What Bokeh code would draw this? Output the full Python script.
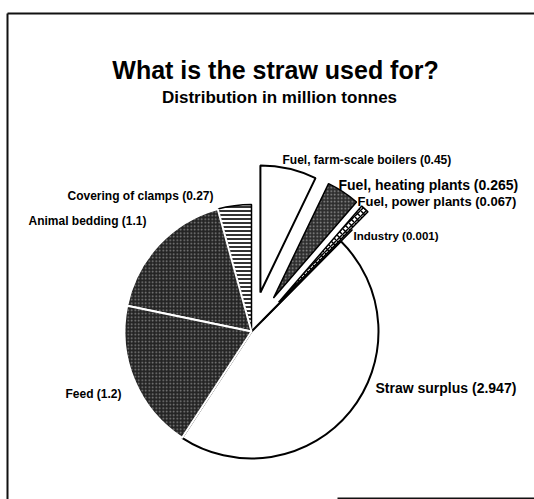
import math

from bokeh.plotting import figure
from bokeh.models import Range1d, ColumnDataSource, Label
from bokeh.embed import file_html
from bokeh.resources import INLINE

# Straw use, million tonnes, listed anticlockwise starting at 12 o'clock
categories = [
    "Covering of clamps",
    "Animal bedding",
    "Feed",
    "Straw surplus",
    "Industry",
    "Fuel, power plants",
    "Fuel, heating plants",
    "Fuel, farm-scale boilers",
]
tonnes = [0.27, 1.1, 1.2, 2.947, 0.001, 0.067, 0.265, 0.45]

title = "What is the straw used for?"
subtitle = "Distribution in million tonnes"

W, H = 534, 499
FONT = "Liberation Sans"


def py(y):
    """Convert a top-down pixel row into the figure's bottom-up y value."""
    return H - y


# pie geometry (pixels)
CX, CY, R = 251, py(331), 127
START_DEG = 90.0

dark = dict(fill_color="#242424", hatch_pattern="dot", hatch_color="white",
            hatch_scale=3.5, hatch_weight=1.0, hatch_alpha=0.45)
styles = {
    "Covering of clamps": dict(fill_color="white", hatch_pattern="horizontal_line",
                               hatch_color="black", hatch_scale=4, hatch_weight=1.6,
                               line_color="black", line_width=1.5),
    "Animal bedding": dict(dark, line_color="white", line_width=2),
    "Feed": dict(dark, line_color="white", line_width=2),
    "Straw surplus": dict(fill_color="white", line_color="black", line_width=2),
    "Industry": dict(fill_color="white", line_color="black", line_width=1.5),
    "Fuel, power plants": dict(fill_color="white", hatch_pattern="diagonal_cross",
                               hatch_color="black", hatch_scale=6, hatch_weight=1.5,
                               line_color="black", line_width=1.5),
    "Fuel, heating plants": dict(fill_color="#2e2e2e", hatch_pattern="dot",
                                 hatch_color="white", hatch_scale=3.5,
                                 hatch_weight=1.0, hatch_alpha=0.5,
                                 line_color="black", line_width=1.5),
    "Fuel, farm-scale boilers": dict(fill_color="white", line_color="black",
                                     line_width=2),
}
explode = {
    "Industry": 16,
    "Fuel, power plants": 40,
    "Fuel, heating plants": 40,
    "Fuel, farm-scale boilers": 40,
}
# label anchor: left x, middle y (top-down pixels), font size
label_at = {
    "Covering of clamps": (67, 195, "12px"),
    "Animal bedding": (28, 220, "12px"),
    "Feed": (65, 393, "12px"),
    "Straw surplus": (375, 387, "14px"),
    "Industry": (353, 235, "11.5px"),
    "Fuel, power plants": (357, 201, "13px"),
    "Fuel, heating plants": (338, 184, "14px"),
    "Fuel, farm-scale boilers": (282, 159, "12px"),
}

p = figure(width=W, height=H, x_range=Range1d(0, W), y_range=Range1d(0, H),
           output_backend="svg", toolbar_location=None, min_border=0,
           x_axis_location=None, y_axis_location=None)
p.grid.visible = False
p.outline_line_color = None
p.background_fill_color = "white"
p.border_fill_color = "white"

# page frame
p.segment(x0=[7, 7, 337], y0=[py(13), py(13), py(498)],
          x1=[7, W, W], y1=[py(H), py(13), py(498)],
          line_color="#111111", line_width=2)

total = sum(tonnes)
angle = START_DEG
wedges = []
for cat, v in zip(categories, tonnes):
    sweep = v / total * 360.0
    a0, a1 = angle, angle + sweep
    mid = math.radians((a0 + a1) / 2)
    d = explode.get(cat, 0)
    wedges.append(dict(cat=cat, v=v, a0=math.radians(a0), a1=math.radians(a1),
                       x=CX + d * math.cos(mid), y=CY + d * math.sin(mid)))
    angle = a1

# draw the big white surplus first so the dark slices sit on top of its edge
order = ["Straw surplus"] + [c for c in categories if c != "Straw surplus"]
for cat in order:
    w = next(item for item in wedges if item["cat"] == cat)
    src = ColumnDataSource(dict(x=[w["x"]], y=[w["y"]],
                                a0=[w["a0"]], a1=[w["a1"]]))
    p.wedge(x="x", y="y", radius=R, start_angle="a0", end_angle="a1",
            source=src, **styles[cat])

for cat, v in zip(categories, tonnes):
    lx, ly, size = label_at[cat]
    p.add_layout(Label(x=lx, y=py(ly), text=f"{cat} ({v})",
                       text_font=FONT, text_font_size=size,
                       text_font_style="bold", text_baseline="middle",
                       text_align="left", text_color="black"))

p.add_layout(Label(x=275, y=py(69), text=title, text_font=FONT,
                   text_font_size="25px", text_font_style="bold",
                   text_align="center", text_baseline="middle",
                   text_color="black"))
p.add_layout(Label(x=279, y=py(97), text=subtitle, text_font=FONT,
                   text_font_size="17px", text_font_style="bold",
                   text_align="center", text_baseline="middle",
                   text_color="black"))

open("out.html", "w").write(file_html(p, INLINE))
